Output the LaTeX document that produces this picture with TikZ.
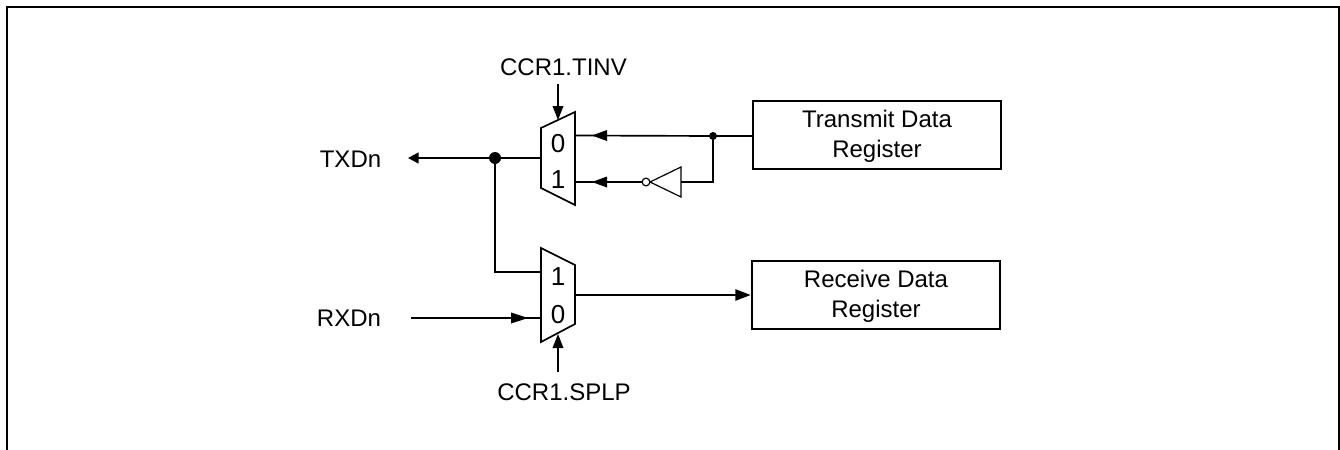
\documentclass[tikz,border=0pt]{standalone}
\usepackage{fontspec}
\setmainfont{Liberation Sans}
\usetikzlibrary{arrows.meta}
\tikzset{
 x=0.75pt,y=-0.75pt,
 wire/.style={line width=1.25pt,black},
 thin wire/.style={line width=0.95pt,black},
 tip/.style={-{Triangle[length=11.5pt,width=8.5pt]}},
 small tip/.style={-{Triangle[length=8pt,width=8.2pt]}},
 ctl tip/.style={-{Triangle[length=10.5pt,width=8pt]}},
 regbox/.style={draw,line width=1.6pt,minimum width=186.5pt,minimum height=50.5pt,align=center,font=\fontsize{18pt}{22.3pt}\selectfont,inner sep=0pt},
 lbl/.style={font=\fontsize{18pt}{22pt}\selectfont,inner sep=0pt},
 muxnum/.style={font=\fontsize{19.5pt}{22pt}\selectfont,inner sep=0pt},
 dot/.style={circle,fill=black,inner sep=0pt},
}
\newcommand{\topstrut}{\rule{0pt}{14.6pt}}
\begin{document}
\begin{tikzpicture}
\useasboundingbox (0,0) rectangle (1340,450);
\draw[line width=1.2pt] (7,450) -- (7,7) -- (1339,7) -- (1339,450);
% muxes
\draw[wire,line join=miter] (541,128) -- (575,112) -- (575,205) -- (541,188) -- cycle;
\draw[wire,line join=miter] (541,248) -- (575,265) -- (575,324) -- (541,342) -- cycle;
\coordinate (m1a) at (575,135.5);
\coordinate (m1b) at (575,182);
\coordinate (m1o) at (541,158);
\coordinate (m1s) at (558,120);
\coordinate (m2a) at (541,272);
\coordinate (m2b) at (541,318);
\coordinate (m2o) at (575,295);
\coordinate (m2s) at (558,334);
\node[muxnum] (n10) at (558,144) {0};
\node[muxnum] (n11) at (558,179.5) {1};
\node[muxnum] (n21) at (558,277) {1};
\node[muxnum] (n20) at (558,315) {0};
% registers
\node[regbox] (tx) at (877,135) {\topstrut Transmit Data\\Register};
\node[regbox] (rx) at (876,295) {\topstrut Receive Data\\Register};
% labels
\node[lbl] (tinv) at (563.5,67) {CCR1.TINV};
\node[lbl] (splp) at (564,392) {CCR1.SPLP};
\node[lbl] (txd) at (350.5,159) {TXDn};
\node[lbl] (rxd) at (349,318) {RXDn};
% junctions
\node[dot,minimum size=9pt] (j1) at (495,158) {};
\node[dot,minimum size=6pt] (j2) at (713,136) {};
% inverter
\coordinate (invtop) at (681,167);
\coordinate (invbot) at (681,197);
\coordinate (invtip) at (650,182);
\draw[line width=0.9pt] (invtop) -- (invbot) -- (invtip) -- cycle;
\node[circle,draw,line width=0.9pt,fill=white,minimum size=5.8pt,inner sep=0pt] (bub) at (646,182) {};
\coordinate (invin) at (681,182);
% wires
\coordinate (txdend) at (408,158);
\draw[wire,small tip] (m1o) -- (txdend);
\draw[wire] (j1.center) |- (m2a);
\draw[wire] (tx.west |- j2) -- (j2.center);
\draw[wire] (j2.center) -- (m1a);
\draw[wire] (j2.center) |- (invin);
\draw[wire] (bub.west) -- (m1b);
\fill (592,135.5) -- (607,130) -- (607,141) -- cycle;
\fill (592,182) -- (607,176.5) -- (607,187.5) -- cycle;
\coordinate (rxdstart) at (411,318);
\draw[wire] (rxdstart) -- (m2b);
\fill (528,318) -- (511,312.5) -- (511,323.5) -- cycle;
\draw[wire,tip] (m2o) -- (rx.west |- m2o);
\coordinate (tinvs) at (558,84);
\coordinate (splps) at (558,372);
\draw[thin wire,ctl tip] (tinvs) -- (m1s);
\draw[thin wire,ctl tip] (splps) -- (m2s);
\end{tikzpicture}
\end{document}
